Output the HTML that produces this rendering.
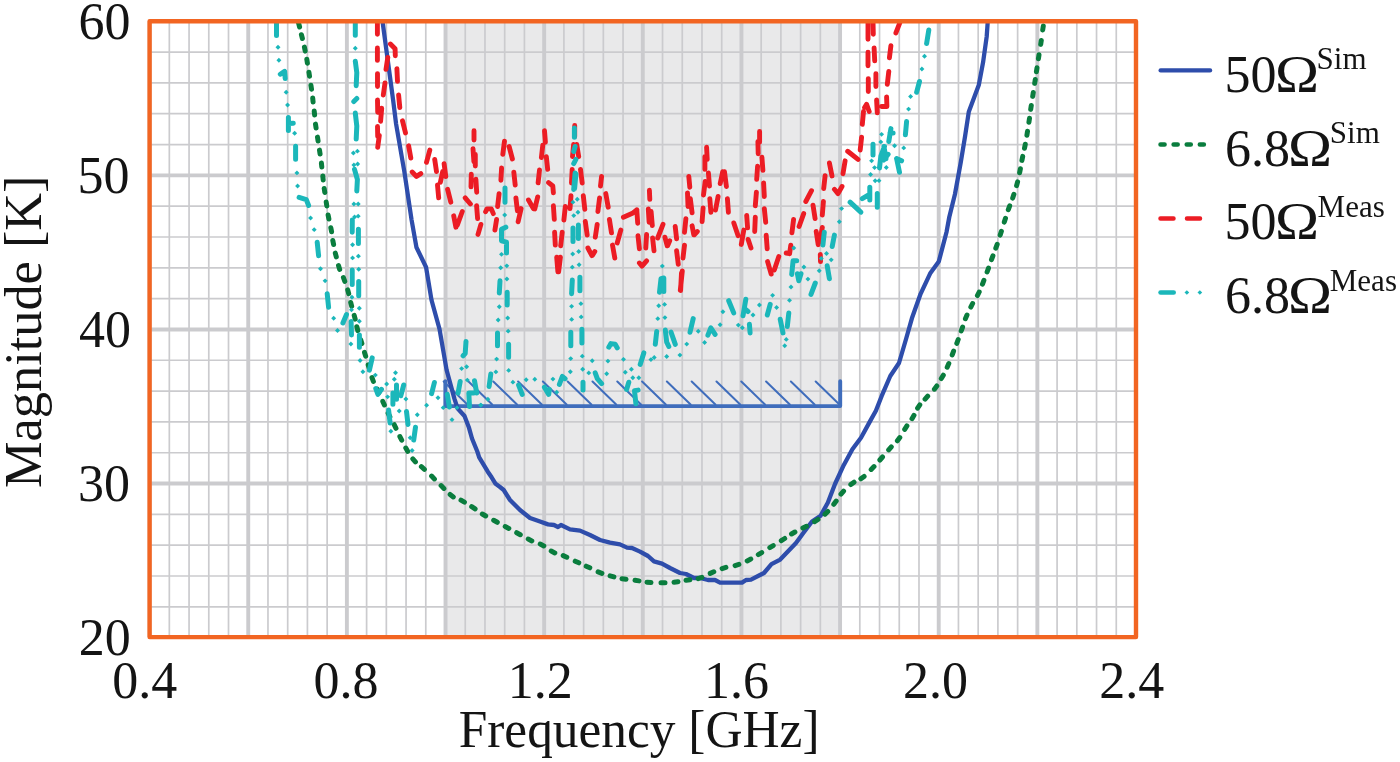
<!DOCTYPE html>
<html lang="en"><head><meta charset="utf-8"><title>Noise temperature</title>
<style>html,body{margin:0;padding:0;background:#fff;overflow:hidden}svg{display:block}text{font-family:"Liberation Serif","DejaVu Serif",serif;fill:#141414}</style></head><body>
<svg width="1400" height="762" viewBox="0 0 1400 762">
<rect width="1400" height="762" fill="#fff"/>
<rect x="444.3" y="21.3" width="397.5" height="615.8" fill="#e9e9ea"/>
<g stroke="#cbcbce"><line x1="149.60" y1="21.3" x2="149.60" y2="637.1" stroke-width="3.9"/><line x1="169.33" y1="21.3" x2="169.33" y2="637.1" stroke-width="1.7"/><line x1="189.06" y1="21.3" x2="189.06" y2="637.1" stroke-width="1.7"/><line x1="208.78" y1="21.3" x2="208.78" y2="637.1" stroke-width="1.7"/><line x1="228.51" y1="21.3" x2="228.51" y2="637.1" stroke-width="1.7"/><line x1="248.24" y1="21.3" x2="248.24" y2="637.1" stroke-width="3.9"/><line x1="267.97" y1="21.3" x2="267.97" y2="637.1" stroke-width="1.7"/><line x1="287.70" y1="21.3" x2="287.70" y2="637.1" stroke-width="1.7"/><line x1="307.42" y1="21.3" x2="307.42" y2="637.1" stroke-width="1.7"/><line x1="327.15" y1="21.3" x2="327.15" y2="637.1" stroke-width="1.7"/><line x1="346.88" y1="21.3" x2="346.88" y2="637.1" stroke-width="3.9"/><line x1="366.61" y1="21.3" x2="366.61" y2="637.1" stroke-width="1.7"/><line x1="386.34" y1="21.3" x2="386.34" y2="637.1" stroke-width="1.7"/><line x1="406.06" y1="21.3" x2="406.06" y2="637.1" stroke-width="1.7"/><line x1="425.79" y1="21.3" x2="425.79" y2="637.1" stroke-width="1.7"/><line x1="445.52" y1="21.3" x2="445.52" y2="637.1" stroke-width="3.9"/><line x1="465.25" y1="21.3" x2="465.25" y2="637.1" stroke-width="1.7"/><line x1="484.98" y1="21.3" x2="484.98" y2="637.1" stroke-width="1.7"/><line x1="504.70" y1="21.3" x2="504.70" y2="637.1" stroke-width="1.7"/><line x1="524.43" y1="21.3" x2="524.43" y2="637.1" stroke-width="1.7"/><line x1="544.16" y1="21.3" x2="544.16" y2="637.1" stroke-width="3.9"/><line x1="563.89" y1="21.3" x2="563.89" y2="637.1" stroke-width="1.7"/><line x1="583.62" y1="21.3" x2="583.62" y2="637.1" stroke-width="1.7"/><line x1="603.34" y1="21.3" x2="603.34" y2="637.1" stroke-width="1.7"/><line x1="623.07" y1="21.3" x2="623.07" y2="637.1" stroke-width="1.7"/><line x1="642.80" y1="21.3" x2="642.80" y2="637.1" stroke-width="3.9"/><line x1="662.53" y1="21.3" x2="662.53" y2="637.1" stroke-width="1.7"/><line x1="682.26" y1="21.3" x2="682.26" y2="637.1" stroke-width="1.7"/><line x1="701.98" y1="21.3" x2="701.98" y2="637.1" stroke-width="1.7"/><line x1="721.71" y1="21.3" x2="721.71" y2="637.1" stroke-width="1.7"/><line x1="741.44" y1="21.3" x2="741.44" y2="637.1" stroke-width="3.9"/><line x1="761.17" y1="21.3" x2="761.17" y2="637.1" stroke-width="1.7"/><line x1="780.90" y1="21.3" x2="780.90" y2="637.1" stroke-width="1.7"/><line x1="800.62" y1="21.3" x2="800.62" y2="637.1" stroke-width="1.7"/><line x1="820.35" y1="21.3" x2="820.35" y2="637.1" stroke-width="1.7"/><line x1="840.08" y1="21.3" x2="840.08" y2="637.1" stroke-width="3.9"/><line x1="859.81" y1="21.3" x2="859.81" y2="637.1" stroke-width="1.7"/><line x1="879.54" y1="21.3" x2="879.54" y2="637.1" stroke-width="1.7"/><line x1="899.26" y1="21.3" x2="899.26" y2="637.1" stroke-width="1.7"/><line x1="918.99" y1="21.3" x2="918.99" y2="637.1" stroke-width="1.7"/><line x1="938.72" y1="21.3" x2="938.72" y2="637.1" stroke-width="3.9"/><line x1="958.45" y1="21.3" x2="958.45" y2="637.1" stroke-width="1.7"/><line x1="978.18" y1="21.3" x2="978.18" y2="637.1" stroke-width="1.7"/><line x1="997.90" y1="21.3" x2="997.90" y2="637.1" stroke-width="1.7"/><line x1="1017.63" y1="21.3" x2="1017.63" y2="637.1" stroke-width="1.7"/><line x1="1037.36" y1="21.3" x2="1037.36" y2="637.1" stroke-width="3.9"/><line x1="1057.09" y1="21.3" x2="1057.09" y2="637.1" stroke-width="1.7"/><line x1="1076.82" y1="21.3" x2="1076.82" y2="637.1" stroke-width="1.7"/><line x1="1096.54" y1="21.3" x2="1096.54" y2="637.1" stroke-width="1.7"/><line x1="1116.27" y1="21.3" x2="1116.27" y2="637.1" stroke-width="1.7"/><line x1="1136.00" y1="21.3" x2="1136.00" y2="637.1" stroke-width="3.9"/><line x1="149.6" y1="606.83" x2="1136.0" y2="606.83" stroke-width="1.7"/><line x1="149.6" y1="576.01" x2="1136.0" y2="576.01" stroke-width="1.7"/><line x1="149.6" y1="545.19" x2="1136.0" y2="545.19" stroke-width="1.7"/><line x1="149.6" y1="514.37" x2="1136.0" y2="514.37" stroke-width="1.7"/><line x1="149.6" y1="483.55" x2="1136.0" y2="483.55" stroke-width="3.9"/><line x1="149.6" y1="452.73" x2="1136.0" y2="452.73" stroke-width="1.7"/><line x1="149.6" y1="421.91" x2="1136.0" y2="421.91" stroke-width="1.7"/><line x1="149.6" y1="391.09" x2="1136.0" y2="391.09" stroke-width="1.7"/><line x1="149.6" y1="360.27" x2="1136.0" y2="360.27" stroke-width="1.7"/><line x1="149.6" y1="329.45" x2="1136.0" y2="329.45" stroke-width="3.9"/><line x1="149.6" y1="298.63" x2="1136.0" y2="298.63" stroke-width="1.7"/><line x1="149.6" y1="267.81" x2="1136.0" y2="267.81" stroke-width="1.7"/><line x1="149.6" y1="236.99" x2="1136.0" y2="236.99" stroke-width="1.7"/><line x1="149.6" y1="206.17" x2="1136.0" y2="206.17" stroke-width="1.7"/><line x1="149.6" y1="175.35" x2="1136.0" y2="175.35" stroke-width="3.9"/><line x1="149.6" y1="144.53" x2="1136.0" y2="144.53" stroke-width="1.7"/><line x1="149.6" y1="113.71" x2="1136.0" y2="113.71" stroke-width="1.7"/><line x1="149.6" y1="82.89" x2="1136.0" y2="82.89" stroke-width="1.7"/><line x1="149.6" y1="52.07" x2="1136.0" y2="52.07" stroke-width="1.7"/></g>
<defs><clipPath id="pc"><rect x="149.6" y="21.3" width="986.4" height="615.8"/></clipPath></defs>
<g clip-path="url(#pc)" fill="none" stroke-linecap="round" stroke-linejoin="round">
<path d="M815.7 381.5L839.4 404.5M790.9 381.5L814.6 404.5M766.1 381.5L789.8 404.5M741.3 381.5L765.0 404.5M716.5 381.5L740.2 404.5M691.7 381.5L715.4 404.5M666.9 381.5L690.6 404.5M642.1 381.5L665.8 404.5M617.3 381.5L641.0 404.5M592.5 381.5L616.2 404.5M567.7 381.5L591.4 404.5M542.9 381.5L566.6 404.5M518.1 381.5L541.8 404.5M493.3 381.5L517.0 404.5M468.5 381.5L492.2 404.5M443.7 381.5L467.4 404.5" stroke="#3f6dbc" stroke-width="2.0" stroke-linecap="round"/>
<path d="M445.4 381.2V406.1H840.2V381.2" stroke="#3f6dbc" stroke-width="3.9" stroke-linejoin="round"/>
<polyline points="381.9,17.0 382.5,21.3 388.0,62.0 393.1,100.0 396.1,124.0 404.4,172.0 411.6,220.0 416.4,247.2 426.1,267.3 431.5,300.0 437.0,320.0 439.5,329.0 446.6,370.0 454.4,398.6 457.5,408.2 464.5,416.0 468.8,427.2 472.0,438.5 477.3,451.5 479.2,457.3 487.8,471.7 491.6,477.3 495.6,483.8 500.0,487.0 503.7,490.0 510.0,500.0 520.0,510.0 530.0,518.0 540.0,521.6 548.0,524.4 554.0,525.0 558.0,527.0 561.0,525.0 570.0,529.4 580.0,530.6 590.0,535.0 600.0,540.0 610.0,542.6 620.0,544.4 627.0,547.6 632.0,548.0 640.0,551.6 648.0,556.0 654.0,561.4 662.0,563.6 670.0,568.0 680.0,573.0 686.0,574.0 694.0,578.0 700.0,578.0 708.0,580.0 715.0,580.0 720.0,582.6 742.0,582.6 746.0,580.0 751.0,579.6 760.0,575.0 764.0,573.0 771.5,564.2 780.2,559.6 796.0,543.0 803.3,533.0 812.0,521.5 820.6,515.7 827.8,502.7 835.0,484.0 843.7,465.2 852.4,449.3 861.0,437.7 869.7,421.9 875.9,410.7 881.6,396.2 890.3,376.0 899.0,363.0 906.2,338.5 911.9,318.3 920.6,293.8 930.1,273.6 938.8,261.5 946.6,231.7 949.3,217.0 955.0,194.0 960.8,162.2 965.1,136.2 968.8,111.7 978.8,85.1 983.1,62.2 986.7,36.5 987.6,23.7 987.6,17.0" stroke="#2e4dab" stroke-width="4.3"/>
<path d="M298.6 23.2L299.6 27.0M301.4 34.7L302.4 38.5M304.4 47.1L305.2 51.1M306.8 59.2L307.4 63.2M308.9 72.2L309.5 76.2M310.9 85.2L311.5 89.2M312.7 98.1L313.1 102.1M314.2 111.1L314.6 115.1M315.5 124.1L316.1 128.1M317.5 137.1L318.1 141.1M319.5 150.1L320.1 154.1M321.4 163.1L321.8 167.1M322.8 176.1L323.2 180.1M324.2 188.5L324.8 192.5M326.2 202.0L326.8 206.0M328.1 215.0L328.9 219.0M330.8 227.7L331.6 231.7M332.8 240.5L333.6 244.5M335.3 253.1L336.3 256.9M338.5 265.6L339.7 269.4M343.4 277.5L344.8 281.3M347.7 289.9L348.7 293.7M350.7 302.5L351.7 306.3M354.2 315.4L355.2 319.2M356.8 326.7L357.8 330.5M360.7 339.7L361.9 343.5M364.5 352.4L365.7 356.2M368.2 364.9L369.4 368.7M372.0 377.7L373.4 381.5M377.2 389.2L378.8 392.8M382.8 401.4L384.4 405.0M388.1 413.2L389.9 416.8M394.2 424.7L396.0 428.3M399.9 436.6L401.7 440.2M405.8 448.0L407.8 451.4M412.8 458.9L415.4 461.9M421.4 466.7L424.4 469.3M431.6 476.1L434.4 478.9M441.1 485.6L443.9 488.4M450.1 494.5L453.3 496.9M461.0 500.2L464.4 502.2M471.7 506.7L475.1 508.9M482.3 514.0L485.7 516.0M493.7 520.3L497.3 522.3M505.2 526.6L508.8 528.4M516.7 532.7L520.3 534.7M528.2 539.1L531.8 540.9M540.2 544.1L543.8 545.9M551.2 551.1L554.8 552.9M563.2 555.6L566.8 557.2M575.2 561.2L578.8 562.8M586.2 566.2L589.8 567.8M598.1 571.9L601.9 573.3M610.1 575.9L613.9 576.9M622.0 578.7L626.0 579.3M635.0 580.3L639.0 580.9M647.0 582.2L651.0 582.6M661.0 582.8L665.0 582.8M674.0 582.2L678.0 581.8M686.0 580.3L690.0 579.7M698.1 578.6L701.9 577.4M710.2 573.4L713.8 571.8M722.1 568.6L725.9 567.4M735.1 565.6L738.9 564.4M747.2 560.9L750.8 559.1M758.3 554.6L761.7 552.6M769.8 547.6L773.2 545.6M781.3 540.7L784.7 538.5M791.5 534.0L794.9 532.0M802.9 528.1L806.5 526.3M814.6 521.7L818.0 519.5M825.0 514.2L827.8 511.4M833.8 504.3L836.2 501.1M841.0 494.1L843.6 491.1M850.8 484.6L854.0 482.2M860.9 478.8L864.1 476.4M871.2 469.4L874.0 466.6M879.9 460.0L882.5 457.0M888.7 449.9L891.3 446.9M897.4 440.8L899.8 437.6M904.7 429.3L906.9 425.9M912.0 418.7L914.0 415.3M917.6 408.1L919.8 404.9M925.1 399.2L927.7 396.2M934.4 389.2L936.8 386.0M941.3 378.6L943.3 375.2M947.2 367.2L948.8 363.6M952.2 354.9L953.6 351.1M956.8 343.3L958.2 339.5M961.2 330.9L962.6 327.1M965.4 318.7L967.0 315.1M970.8 307.1L972.6 303.5M977.4 295.6L979.2 292.0M982.5 284.2L983.9 280.4M987.1 272.0L988.5 268.2M991.5 259.6L992.9 255.8M995.8 248.1L997.2 244.3M1000.2 235.1L1001.4 231.3M1004.3 222.1L1005.5 218.3M1008.3 209.7L1009.7 205.9M1012.7 198.1L1013.9 194.3M1016.6 185.7L1017.6 181.9M1019.6 172.8L1020.4 168.8M1021.9 160.4L1022.7 156.4M1024.5 148.3L1025.3 144.3M1026.9 135.3L1027.5 131.3M1028.9 122.3L1029.5 118.3M1030.7 109.4L1031.3 105.4M1032.7 96.4L1033.3 92.4M1034.7 83.4L1035.3 79.4M1036.4 71.8L1037.0 67.8M1038.4 58.8L1039.0 54.8M1040.7 44.4L1041.3 40.4M1042.7 30.0L1043.3 26.0" stroke="#0a7d3e" stroke-width="5.0"/>
<path d="M377.4 20.1L377.4 34.3M377.4 48.0L377.4 60.4M390.4 44.1L395.1 48.8L395.3 55.7M387.8 57.4L386.0 69.4M377.5 73.6L377.5 86.5M377.5 100.0L377.7 112.2M381.7 108.3L380.6 121.2M377.5 126.5L377.7 136.5M379.3 135.5L377.7 147.3M385.0 82.9L383.3 95.0M396.9 68.6L397.5 81.4M398.6 95.0L399.8 107.5M402.5 120.8L405.5 132.9M408.6 145.8L410.8 158.0M429.8 150.1L426.5 162.3M434.7 159.4L436.5 171.6M444.1 163.7L445.8 176.6M474.0 130.8L474.0 140.1M473.0 148.7L473.9 161.6M475.3 154.4L475.3 166.1M504.5 141.1L502.8 154.4M509.1 146.5L512.4 159.0M501.6 168.0L500.9 180.2M544.5 130.8L545.4 142.2M542.8 145.1L541.4 157.6M546.3 156.6L547.7 169.4M412.2 172.1L416.5 176.4L420.8 173.6M442.7 171.4L440.4 182.2M437.5 185.0L438.7 197.9M447.6 189.3L450.8 202.2M453.7 215.8L455.9 227.2M457.3 225.1L462.3 211.5M465.2 197.9L470.4 204.0M471.3 174.3L471.0 186.9M475.9 179.3L476.7 192.2M476.6 205.8L477.6 218.6M480.9 224.4L478.0 234.4M485.6 211.8L487.0 208.9L491.3 208.9L493.3 213.6M496.6 219.4L494.9 230.1M499.1 193.6L497.6 206.5M513.8 172.1L515.2 185.0M515.9 197.9L517.4 210.8M521.1 208.6L518.1 221.8M528.5 200.0L533.4 208.6M534.8 208.9L537.7 196.9M539.5 170.0L538.1 182.9M548.6 182.6L552.8 186.0L553.4 192.9M553.4 205.8L554.3 219.4M554.6 232.2L555.3 245.1M574.7 125.5L574.7 136.5M573.6 144.4L572.5 156.6M576.7 144.4L578.7 156.6M572.2 169.4L571.5 183.0M580.5 169.4L582.2 183.0M706.6 147.3L707.2 159.4M704.9 156.6L704.9 169.4M571.0 195.8L570.0 208.6M565.3 206.5L563.9 220.1M562.2 232.2L560.7 245.8M556.7 257.3L557.9 271.9M560.4 257.3L558.6 271.9M583.3 195.8L584.8 209.3M585.3 221.5L587.2 235.1M587.9 248.0L591.9 255.6M592.5 255.3L594.8 251.5M597.2 224.4L595.3 237.2M599.6 197.9L597.9 211.5M601.6 176.4L600.5 186.0M605.8 193.6L608.2 207.2M609.4 219.4L611.5 232.9M620.8 230.1L617.2 243.0M612.5 245.1L614.8 258.0M623.4 217.2L633.0 212.9L636.8 209.8M636.8 209.8L637.7 223.2M649.4 190.3L649.8 199.3M648.3 208.9L649.1 222.2M651.1 211.5L652.3 225.5M638.0 235.8L639.4 248.7M646.6 234.4L645.8 248.0M652.6 238.0L654.0 250.8M663.0 224.4L657.7 238.0M639.4 263.0L642.0 266.1L646.6 260.8M664.9 237.2L667.2 245.8M667.7 245.5L669.7 240.8M675.2 226.5L676.6 238.7M676.6 250.8L678.3 264.4M684.5 245.1L683.0 258.0M682.3 270.9L680.3 290.2M681.5 273.0L680.6 290.5M685.9 218.6L684.5 232.2M692.1 225.8L693.8 234.7M694.3 234.7L697.3 231.5M687.5 192.9L688.0 206.5M690.3 198.6L692.1 212.9M688.8 176.4L689.8 187.2M703.1 207.9L702.1 221.5M705.2 181.4L703.5 195.0M708.4 172.9L709.5 186.0M709.8 198.6L710.9 212.2M718.1 196.5L715.5 210.1M722.7 171.7L720.2 183.6M724.5 171.7L726.4 186.5M727.4 198.6L728.4 212.2M733.8 222.9L738.1 235.8M743.8 230.1L741.3 244.4M759.6 131.5L759.6 142.2M757.9 141.5L758.2 153.7M761.9 157.3L762.9 170.4M757.6 166.1L756.7 179.4M829.4 163.0L832.0 175.9M845.1 160.8L843.0 173.7M847.7 151.3L858.0 159.4M861.6 137.2L860.2 150.1M863.5 111.5L862.3 124.4M864.6 107.5L866.6 104.3L869.2 111.5M868.3 78.6L868.3 91.5M875.9 73.6L875.9 86.5M876.6 100.0L877.3 112.9M888.8 71.4L887.3 84.3M886.6 96.9L886.9 106.5L881.6 106.5M756.4 192.2L755.3 205.8M755.3 217.2L754.7 231.5M746.7 215.5L747.6 227.9M748.1 239.4L751.0 248.0M763.6 182.9L764.3 196.5M764.3 208.6L765.7 222.2M766.2 235.1L767.2 248.7M767.6 261.6L771.2 274.1M774.3 270.1L778.8 256.6M793.6 219.4L791.9 232.9M790.8 245.1L789.6 253.7L786.2 253.0M803.7 213.6L799.1 226.5M811.5 190.7L805.8 201.5M813.0 205.1L815.1 218.6M823.4 201.5L822.3 215.1M825.1 175.7L823.7 188.6M834.4 189.3L838.0 193.6L842.0 186.5M816.2 231.5L818.2 244.7M822.3 227.5L819.7 242.2M820.3 254.4L820.5 261.6M868.0 20.7L868.0 39.3M868.0 52.2L868.0 65.8M873.0 20.7L873.3 34.3M874.1 47.9L874.7 60.8M900.9 20.0L895.9 32.9M890.9 45.8L889.4 57.9" stroke="#ec1c24" stroke-width="4.9"/>
<path d="M276.5 15.0L276.5 35.5M280.3 74.2L284.6 71.3L285.2 78.5M288.4 117.5L288.4 130.4M288.4 123.5L293.3 123.2M295.6 146.3L295.6 159.3M299.1 197.4L306.3 199.7L308.6 205.5M317.2 242.2L318.6 255.8M327.2 293.7L328.6 307.3M346.5 314.5L342.9 322.9M355.3 15.0L355.3 35.2M355.3 61.2L356.8 72.7L356.2 85.7M353.8 101.5L356.8 98.5M355.3 113.1L356.8 126.1L356.2 139.1M354.5 169.4L357.4 179.5L356.8 191.0M352.3 219.9L352.2 232.2M358.4 229.3L358.4 243.6M352.2 270.0L352.2 284.4M358.7 281.5L358.7 295.8M351.1 321.6L351.5 335.0M359.4 335.0L359.4 347.2M372.2 357.9L369.4 370.1M375.8 388.6L377.9 394.3L381.5 389.3M392.9 392.9L392.9 404.3M396.5 385.0L396.5 399.3M400.8 395.8L403.7 385.0M388.6 410.1L390.1 423.0M406.5 411.5L408.0 424.4M415.5 427.2L413.7 440.1M434.4 382.5L431.6 393.6M447.3 394.3L449.4 407.0M460.2 381.5L458.1 393.0M466.0 341.5L465.2 353.6L463.1 355.8M474.5 380.8L476.7 393.0M469.5 406.6L468.8 393.0L473.8 393.0M490.8 374.0L489.1 386.5M505.0 188.0L505.0 202.3M505.8 227.2L501.5 229.3L501.5 240.8L506.5 242.2L506.5 252.9M500.0 280.8L499.3 293.0M507.2 292.3L507.2 305.1M497.5 332.9L497.5 345.8M508.6 344.3L508.6 357.2M518.6 385.1L522.2 394.4M544.4 387.2L548.7 394.4L549.4 389.4M565.1 378.7L562.3 376.5L559.4 384.4M574.4 127.9L574.4 137.2M575.1 146.5L573.7 151.5M575.9 159.4L573.7 163.6M575.1 173.0L573.7 189.4M575.9 174.0L574.6 188.5M573.0 227.9L573.0 241.5M578.4 225.0L578.4 238.6M572.3 280.1L571.6 293.7M579.9 277.2L579.9 290.8M570.8 332.2L570.8 345.8M581.9 329.3L581.9 342.9M595.2 372.9L597.3 378.7L601.6 383.7M583.0 382.2L583.0 390.1M608.8 347.2L610.9 343.6L615.2 344.3L617.3 347.9M643.8 352.9L640.2 364.4M628.8 382.2L626.6 389.4M638.1 390.1L634.5 390.8L635.9 403.7M659.5 292.3L661.0 278.7L663.8 278.0L663.8 291.5M656.7 331.5L655.3 344.3M665.3 330.0L666.7 342.2L668.8 346.5M671.0 332.2L675.3 344.3M693.2 318.6L690.0 332.2M707.9 335.1L710.8 327.9L715.1 334.4M728.7 300.7L733.7 312.9M745.8 299.3L743.0 315.8M745.0 309.0L748.0 311.5M749.4 324.3L750.1 332.9M770.2 304.3L767.3 315.0M780.2 319.3L783.0 332.9M788.8 312.9L787.3 326.5M815.3 283.0L811.0 294.4M791.7 274.4L793.1 260.8L796.7 260.8M797.4 273.7L798.8 280.8L801.0 273.7M827.2 265.8L829.4 278.7M824.3 232.2L822.9 245.1M834.4 235.1L832.2 246.5M850.1 202.2L860.8 212.2M862.3 198.6L869.4 194.3M869.8 187.2L869.8 200.0M877.3 193.6L877.3 207.2M873.0 144.3L873.0 155.0M879.5 167.9L880.9 155.8L884.5 146.5M883.8 160.0L888.1 154.3M883.9 146.5L886.0 158.7M890.0 133.0L893.1 133.0M890.9 128.6L888.8 141.5M896.6 158.6L899.5 172.2M896.6 158.6L901.6 160.8M906.6 121.6L905.4 134.8M928.8 30.0L926.6 43.6M919.5 81.5L916.6 92.3" stroke="#1bb7ba" stroke-width="5.0"/>
<g fill="#1bb7ba" stroke="none"><rect x="276.2" y="45.5" width="3.5" height="3.5" transform="rotate(45 278.0 47.3)"/><rect x="277.1" y="58.5" width="3.5" height="3.5" transform="rotate(45 278.9 60.3)"/><rect x="284.4" y="90.5" width="3.5" height="3.5" transform="rotate(45 286.1 92.3)"/><rect x="285.8" y="103.2" width="3.5" height="3.5" transform="rotate(45 287.5 105.0)"/><rect x="292.9" y="131.6" width="3.5" height="3.5" transform="rotate(45 294.7 133.3)"/><rect x="295.2" y="171.2" width="3.5" height="3.5" transform="rotate(45 297.0 172.9)"/><rect x="295.9" y="184.2" width="3.5" height="3.5" transform="rotate(45 297.6 185.9)"/><rect x="308.9" y="216.2" width="3.5" height="3.5" transform="rotate(45 310.6 217.9)"/><rect x="312.4" y="227.9" width="3.5" height="3.5" transform="rotate(45 314.2 229.7)"/><rect x="318.8" y="266.9" width="3.5" height="3.5" transform="rotate(45 320.5 268.6)"/><rect x="323.4" y="279.1" width="3.5" height="3.5" transform="rotate(45 325.1 280.8)"/><rect x="331.9" y="316.4" width="3.5" height="3.5" transform="rotate(45 333.6 318.2)"/><rect x="335.8" y="328.8" width="3.5" height="3.5" transform="rotate(45 337.5 330.5)"/><rect x="353.6" y="46.5" width="3.5" height="3.5" transform="rotate(45 355.3 48.2)"/><rect x="351.6" y="151.2" width="3.5" height="3.5" transform="rotate(45 353.3 153.0)"/><rect x="355.6" y="149.4" width="3.5" height="3.5" transform="rotate(45 357.4 151.2)"/><rect x="352.1" y="163.2" width="3.5" height="3.5" transform="rotate(45 353.9 165.0)"/><rect x="355.9" y="162.2" width="3.5" height="3.5" transform="rotate(45 357.6 164.0)"/><rect x="352.1" y="202.2" width="3.5" height="3.5" transform="rotate(45 353.9 204.0)"/><rect x="356.4" y="202.2" width="3.5" height="3.5" transform="rotate(45 358.2 204.0)"/><rect x="352.8" y="215.2" width="3.5" height="3.5" transform="rotate(45 354.5 217.0)"/><rect x="356.4" y="214.4" width="3.5" height="3.5" transform="rotate(45 358.2 216.2)"/><rect x="350.8" y="242.9" width="3.5" height="3.5" transform="rotate(45 352.5 244.7)"/><rect x="350.8" y="256.1" width="3.5" height="3.5" transform="rotate(45 352.5 257.9)"/><rect x="356.6" y="254.4" width="3.5" height="3.5" transform="rotate(45 358.4 256.2)"/><rect x="356.9" y="267.6" width="3.5" height="3.5" transform="rotate(45 358.7 269.4)"/><rect x="350.2" y="295.6" width="3.5" height="3.5" transform="rotate(45 352.0 297.3)"/><rect x="349.8" y="308.1" width="3.5" height="3.5" transform="rotate(45 351.5 309.8)"/><rect x="357.6" y="306.6" width="3.5" height="3.5" transform="rotate(45 359.4 308.3)"/><rect x="357.6" y="319.6" width="3.5" height="3.5" transform="rotate(45 359.4 321.3)"/><rect x="349.1" y="342.2" width="3.5" height="3.5" transform="rotate(45 350.8 344.0)"/><rect x="358.4" y="358.8" width="3.5" height="3.5" transform="rotate(45 360.1 360.5)"/><rect x="361.1" y="370.1" width="3.5" height="3.5" transform="rotate(45 362.9 371.9)"/><rect x="373.6" y="373.4" width="3.5" height="3.5" transform="rotate(45 375.4 375.1)"/><rect x="384.9" y="382.2" width="3.5" height="3.5" transform="rotate(45 386.6 384.0)"/><rect x="393.8" y="370.9" width="3.5" height="3.5" transform="rotate(45 395.5 372.6)"/><rect x="392.6" y="377.6" width="3.5" height="3.5" transform="rotate(45 394.4 379.3)"/><rect x="385.9" y="395.1" width="3.5" height="3.5" transform="rotate(45 387.6 396.8)"/><rect x="404.1" y="397.2" width="3.5" height="3.5" transform="rotate(45 405.8 399.0)"/><rect x="397.4" y="409.2" width="3.5" height="3.5" transform="rotate(45 399.2 411.0)"/><rect x="415.6" y="412.9" width="3.5" height="3.5" transform="rotate(45 417.3 414.6)"/><rect x="389.1" y="429.4" width="3.5" height="3.5" transform="rotate(45 390.8 431.2)"/><rect x="408.4" y="435.9" width="3.5" height="3.5" transform="rotate(45 410.1 437.7)"/><rect x="410.4" y="448.8" width="3.5" height="3.5" transform="rotate(45 412.2 450.5)"/><rect x="424.9" y="403.4" width="3.5" height="3.5" transform="rotate(45 426.6 405.1)"/><rect x="436.2" y="396.1" width="3.5" height="3.5" transform="rotate(45 438.0 397.9)"/><rect x="441.4" y="405.9" width="3.5" height="3.5" transform="rotate(45 443.2 407.7)"/><rect x="450.2" y="417.9" width="3.5" height="3.5" transform="rotate(45 452.0 419.7)"/><rect x="455.2" y="405.9" width="3.5" height="3.5" transform="rotate(45 457.0 407.7)"/><rect x="459.9" y="366.9" width="3.5" height="3.5" transform="rotate(45 461.7 368.6)"/><rect x="464.9" y="365.1" width="3.5" height="3.5" transform="rotate(45 466.7 366.8)"/><rect x="465.6" y="378.4" width="3.5" height="3.5" transform="rotate(45 467.4 380.1)"/><rect x="479.2" y="403.4" width="3.5" height="3.5" transform="rotate(45 481.0 405.1)"/><rect x="494.1" y="370.1" width="3.5" height="3.5" transform="rotate(45 495.8 371.9)"/><rect x="494.9" y="357.4" width="3.5" height="3.5" transform="rotate(45 496.7 359.1)"/><rect x="496.4" y="318.2" width="3.5" height="3.5" transform="rotate(45 498.1 320.0)"/><rect x="486.1" y="397.6" width="3.5" height="3.5" transform="rotate(45 487.9 399.4)"/><rect x="478.9" y="403.4" width="3.5" height="3.5" transform="rotate(45 480.7 405.1)"/><rect x="502.9" y="213.3" width="3.5" height="3.5" transform="rotate(45 504.7 215.1)"/><rect x="499.8" y="252.6" width="3.5" height="3.5" transform="rotate(45 501.5 254.3)"/><rect x="498.9" y="266.1" width="3.5" height="3.5" transform="rotate(45 500.7 267.9)"/><rect x="505.1" y="264.1" width="3.5" height="3.5" transform="rotate(45 506.8 265.8)"/><rect x="505.1" y="277.2" width="3.5" height="3.5" transform="rotate(45 506.8 279.0)"/><rect x="497.6" y="304.9" width="3.5" height="3.5" transform="rotate(45 499.3 306.6)"/><rect x="505.9" y="316.2" width="3.5" height="3.5" transform="rotate(45 507.6 318.0)"/><rect x="506.4" y="329.4" width="3.5" height="3.5" transform="rotate(45 508.2 331.2)"/><rect x="506.9" y="368.6" width="3.5" height="3.5" transform="rotate(45 508.6 370.4)"/><rect x="511.1" y="380.4" width="3.5" height="3.5" transform="rotate(45 512.9 382.2)"/><rect x="524.4" y="377.9" width="3.5" height="3.5" transform="rotate(45 526.1 379.7)"/><rect x="533.0" y="377.6" width="3.5" height="3.5" transform="rotate(45 534.8 379.4)"/><rect x="555.0" y="390.6" width="3.5" height="3.5" transform="rotate(45 556.8 392.3)"/><rect x="551.2" y="377.4" width="3.5" height="3.5" transform="rotate(45 553.0 379.1)"/><rect x="571.1" y="200.4" width="3.5" height="3.5" transform="rotate(45 572.9 202.2)"/><rect x="575.5" y="197.4" width="3.5" height="3.5" transform="rotate(45 577.2 199.2)"/><rect x="572.0" y="213.8" width="3.5" height="3.5" transform="rotate(45 573.7 215.6)"/><rect x="576.2" y="210.6" width="3.5" height="3.5" transform="rotate(45 578.0 212.3)"/><rect x="571.0" y="252.2" width="3.5" height="3.5" transform="rotate(45 572.7 253.9)"/><rect x="577.0" y="249.8" width="3.5" height="3.5" transform="rotate(45 578.7 251.5)"/><rect x="570.5" y="265.4" width="3.5" height="3.5" transform="rotate(45 572.3 267.2)"/><rect x="577.4" y="262.9" width="3.5" height="3.5" transform="rotate(45 579.1 264.6)"/><rect x="569.9" y="304.6" width="3.5" height="3.5" transform="rotate(45 571.6 306.3)"/><rect x="579.1" y="301.9" width="3.5" height="3.5" transform="rotate(45 580.9 303.7)"/><rect x="569.9" y="317.6" width="3.5" height="3.5" transform="rotate(45 571.6 319.4)"/><rect x="579.4" y="315.1" width="3.5" height="3.5" transform="rotate(45 581.1 316.9)"/><rect x="569.0" y="356.9" width="3.5" height="3.5" transform="rotate(45 570.8 358.6)"/><rect x="580.5" y="354.4" width="3.5" height="3.5" transform="rotate(45 582.3 356.2)"/><rect x="590.5" y="359.1" width="3.5" height="3.5" transform="rotate(45 592.3 360.8)"/><rect x="568.6" y="370.1" width="3.5" height="3.5" transform="rotate(45 570.4 371.8)"/><rect x="581.0" y="367.4" width="3.5" height="3.5" transform="rotate(45 582.7 369.1)"/><rect x="587.0" y="371.1" width="3.5" height="3.5" transform="rotate(45 588.7 372.9)"/><rect x="606.2" y="359.4" width="3.5" height="3.5" transform="rotate(45 608.0 361.1)"/><rect x="604.9" y="371.9" width="3.5" height="3.5" transform="rotate(45 606.6 373.7)"/><rect x="621.8" y="357.6" width="3.5" height="3.5" transform="rotate(45 623.5 359.3)"/><rect x="623.5" y="370.4" width="3.5" height="3.5" transform="rotate(45 625.2 372.2)"/><rect x="629.6" y="367.6" width="3.5" height="3.5" transform="rotate(45 631.4 369.4)"/><rect x="631.0" y="376.1" width="3.5" height="3.5" transform="rotate(45 632.8 377.9)"/><rect x="637.0" y="376.1" width="3.5" height="3.5" transform="rotate(45 638.8 377.9)"/><rect x="649.2" y="357.9" width="3.5" height="3.5" transform="rotate(45 651.0 359.6)"/><rect x="652.5" y="355.8" width="3.5" height="3.5" transform="rotate(45 654.3 357.5)"/><rect x="660.6" y="264.4" width="3.5" height="3.5" transform="rotate(45 662.4 266.1)"/><rect x="657.0" y="304.1" width="3.5" height="3.5" transform="rotate(45 658.8 305.8)"/><rect x="662.8" y="302.6" width="3.5" height="3.5" transform="rotate(45 664.5 304.4)"/><rect x="656.0" y="316.9" width="3.5" height="3.5" transform="rotate(45 657.8 318.7)"/><rect x="663.2" y="315.9" width="3.5" height="3.5" transform="rotate(45 665.0 317.6)"/><rect x="665.0" y="354.8" width="3.5" height="3.5" transform="rotate(45 666.7 356.5)"/><rect x="678.2" y="353.4" width="3.5" height="3.5" transform="rotate(45 680.0 355.1)"/><rect x="685.0" y="342.4" width="3.5" height="3.5" transform="rotate(45 686.8 344.1)"/><rect x="696.5" y="329.4" width="3.5" height="3.5" transform="rotate(45 698.2 331.2)"/><rect x="702.9" y="340.8" width="3.5" height="3.5" transform="rotate(45 704.6 342.5)"/><rect x="718.4" y="322.9" width="3.5" height="3.5" transform="rotate(45 720.1 324.6)"/><rect x="721.1" y="310.1" width="3.5" height="3.5" transform="rotate(45 722.9 311.9)"/><rect x="736.6" y="323.4" width="3.5" height="3.5" transform="rotate(45 738.4 325.1)"/><rect x="740.5" y="326.1" width="3.5" height="3.5" transform="rotate(45 742.3 327.9)"/><rect x="751.2" y="313.2" width="3.5" height="3.5" transform="rotate(45 753.0 315.0)"/><rect x="757.6" y="303.2" width="3.5" height="3.5" transform="rotate(45 759.4 305.0)"/><rect x="770.9" y="293.6" width="3.5" height="3.5" transform="rotate(45 772.6 295.3)"/><rect x="774.9" y="305.8" width="3.5" height="3.5" transform="rotate(45 776.6 307.5)"/><rect x="787.8" y="298.6" width="3.5" height="3.5" transform="rotate(45 789.5 300.3)"/><rect x="784.5" y="337.6" width="3.5" height="3.5" transform="rotate(45 786.2 339.4)"/><rect x="783.0" y="344.1" width="3.5" height="3.5" transform="rotate(45 784.8 345.8)"/><rect x="792.0" y="246.2" width="3.5" height="3.5" transform="rotate(45 793.8 248.0)"/><rect x="802.1" y="265.2" width="3.5" height="3.5" transform="rotate(45 803.9 267.0)"/><rect x="806.2" y="277.4" width="3.5" height="3.5" transform="rotate(45 808.0 279.1)"/><rect x="789.2" y="285.2" width="3.5" height="3.5" transform="rotate(45 791.0 287.0)"/><rect x="819.5" y="256.6" width="3.5" height="3.5" transform="rotate(45 821.2 258.4)"/><rect x="817.5" y="269.1" width="3.5" height="3.5" transform="rotate(45 819.3 270.8)"/><rect x="824.8" y="251.7" width="3.5" height="3.5" transform="rotate(45 826.5 253.4)"/><rect x="829.5" y="258.1" width="3.5" height="3.5" transform="rotate(45 831.2 259.8)"/><rect x="837.6" y="220.1" width="3.5" height="3.5" transform="rotate(45 839.4 221.8)"/><rect x="839.8" y="206.8" width="3.5" height="3.5" transform="rotate(45 841.5 208.6)"/><rect x="873.4" y="178.9" width="3.5" height="3.5" transform="rotate(45 875.1 180.7)"/><rect x="877.2" y="178.9" width="3.5" height="3.5" transform="rotate(45 879.0 180.7)"/><rect x="868.9" y="172.7" width="3.5" height="3.5" transform="rotate(45 870.6 174.4)"/><rect x="872.8" y="165.8" width="3.5" height="3.5" transform="rotate(45 874.5 167.6)"/><rect x="869.9" y="159.1" width="3.5" height="3.5" transform="rotate(45 871.6 160.8)"/><rect x="884.5" y="165.8" width="3.5" height="3.5" transform="rotate(45 886.3 167.6)"/><rect x="879.9" y="132.6" width="3.5" height="3.5" transform="rotate(45 881.6 134.3)"/><rect x="879.1" y="140.2" width="3.5" height="3.5" transform="rotate(45 880.9 141.9)"/><rect x="892.8" y="143.9" width="3.5" height="3.5" transform="rotate(45 894.5 145.7)"/><rect x="902.0" y="146.2" width="3.5" height="3.5" transform="rotate(45 903.8 147.9)"/><rect x="922.8" y="54.5" width="3.5" height="3.5" transform="rotate(45 924.5 56.2)"/><rect x="920.1" y="67.3" width="3.5" height="3.5" transform="rotate(45 921.9 69.1)"/><rect x="908.9" y="94.8" width="3.5" height="3.5" transform="rotate(45 910.6 96.5)"/><rect x="906.8" y="107.3" width="3.5" height="3.5" transform="rotate(45 908.5 109.1)"/></g>
</g>
<rect x="149.6" y="21.3" width="986.4" height="615.8" fill="none" stroke="#f26522" stroke-width="4.4" stroke-linejoin="round"/>
<text x="130.6" y="39.2" font-size="52" text-anchor="end">60</text>
<text x="129.6" y="193.0" font-size="52" text-anchor="end">50</text>
<text x="130.9" y="346.5" font-size="52" text-anchor="end">40</text>
<text x="129.9" y="501.0" font-size="52" text-anchor="end">30</text>
<text x="130.7" y="654.9" font-size="52" text-anchor="end">20</text>
<text x="144.8" y="698.3" font-size="52" text-anchor="middle">0.4</text>
<text x="345.9" y="698.3" font-size="52" text-anchor="middle">0.8</text>
<text x="540.3" y="698.3" font-size="52" text-anchor="middle">1.2</text>
<text x="736.4" y="698.3" font-size="52" text-anchor="middle">1.6</text>
<text x="935.4" y="698.3" font-size="52" text-anchor="middle">2.0</text>
<text x="1131.8" y="698.3" font-size="52" text-anchor="middle">2.4</text>
<text transform="translate(639.1,747.3) scale(0.988,1)" font-size="52" text-anchor="middle">Frequency [GHz]</text>
<text transform="translate(41,331.7) rotate(-90) scale(1.0066,1)" font-size="52" text-anchor="middle">Magnitude [K]</text>
<g fill="none" stroke-linecap="round">
<line x1="1160.6" y1="70.4" x2="1210.1" y2="70.4" stroke="#2e4dab" stroke-width="4.3"/>
<line x1="1160.55" y1="144.5" x2="1205" y2="144.5" stroke="#0a7d3e" stroke-width="4.6" stroke-dasharray="4.0 9.1"/>
<line x1="1160.45" y1="218.5" x2="1201" y2="218.5" stroke="#ec1c24" stroke-width="4.4" stroke-dasharray="13.1 13.4"/>
<line x1="1160.55" y1="292.5" x2="1173.7" y2="292.5" stroke="#1bb7ba" stroke-width="4.6"/>
</g>
<rect x="1185.20" y="290.85" width="3.3" height="3.3" fill="#1bb7ba" transform="rotate(45 1186.85 292.5)"/>
<rect x="1198.20" y="290.85" width="3.3" height="3.3" fill="#1bb7ba" transform="rotate(45 1199.85 292.5)"/>
<text x="1224.5" y="91.6" font-size="52">50</text>
<text transform="translate(1275.0,91.6) scale(1.14,1)" font-size="52">Ω</text>
<g style="mix-blend-mode:multiply"><text x="1316.6" y="69.4" font-size="31">Sim</text></g>
<text x="1225.0" y="165.9" font-size="52">6.8</text>
<text transform="translate(1288.0,165.9) scale(1.14,1)" font-size="52">Ω</text>
<g style="mix-blend-mode:multiply"><text x="1329.8" y="143.0" font-size="31">Sim</text></g>
<text x="1224.5" y="239.2" font-size="52">50</text>
<text transform="translate(1275.0,239.2) scale(1.14,1)" font-size="52">Ω</text>
<g style="mix-blend-mode:multiply"><text x="1317.6" y="216.7" font-size="31">Meas</text></g>
<text x="1225.0" y="313.2" font-size="52">6.8</text>
<text transform="translate(1288.0,313.2) scale(1.14,1)" font-size="52">Ω</text>
<g style="mix-blend-mode:multiply"><text x="1329.8" y="290.7" font-size="31">Meas</text></g>
</svg></body></html>
